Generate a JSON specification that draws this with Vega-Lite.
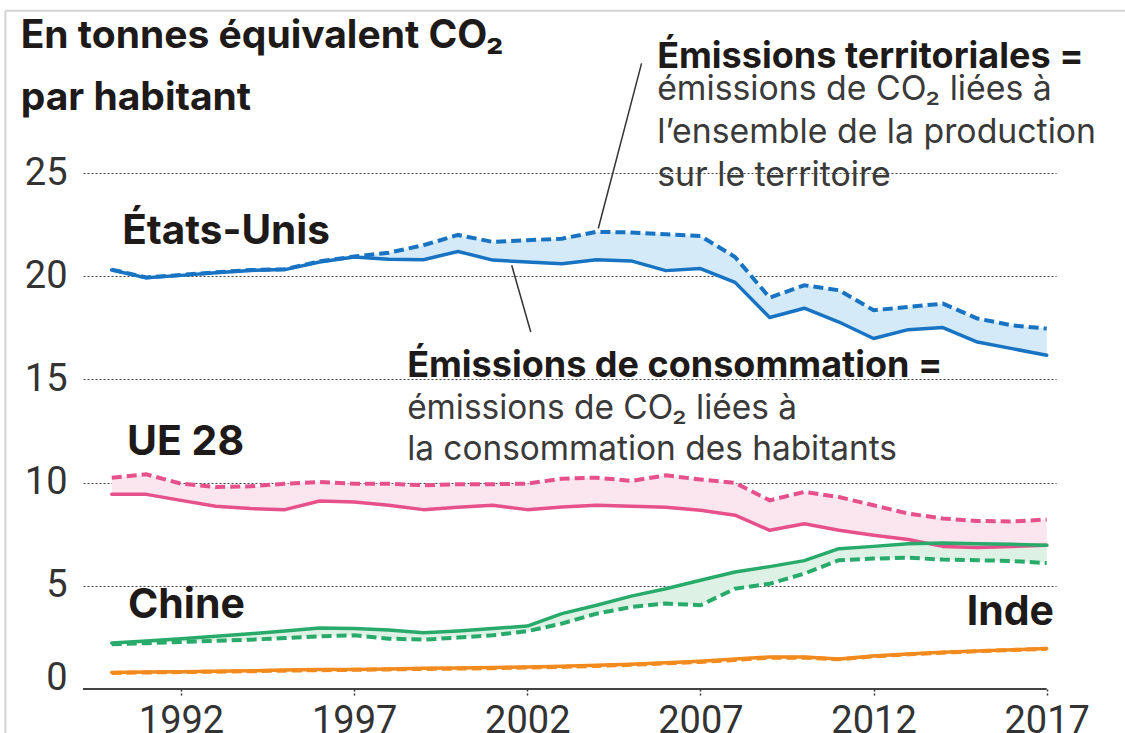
{
  "$schema": "https://vega.github.io/schema/vega-lite/v6.json",
  "autosize": {"type": "none"},
  "width": 973,
  "height": 516,
  "padding": {"left": 83, "top": 173, "right": 69, "bottom": 44},
  "background": "white",
  "config": {"view": {"stroke": null}},
  "data": {"values": [
    {"pays":"États-Unis","annee":1990,"consommation":20.30,"territoriales":20.32},
    {"pays":"États-Unis","annee":1991,"consommation":19.92,"territoriales":19.94},
    {"pays":"États-Unis","annee":1992,"consommation":20.04,"territoriales":20.06},
    {"pays":"États-Unis","annee":1993,"consommation":20.17,"territoriales":20.19},
    {"pays":"États-Unis","annee":1994,"consommation":20.28,"territoriales":20.30},
    {"pays":"États-Unis","annee":1995,"consommation":20.32,"territoriales":20.34},
    {"pays":"États-Unis","annee":1996,"consommation":20.69,"territoriales":20.72},
    {"pays":"États-Unis","annee":1997,"consommation":20.93,"territoriales":20.95},
    {"pays":"États-Unis","annee":1998,"consommation":20.82,"territoriales":21.14},
    {"pays":"États-Unis","annee":1999,"consommation":20.80,"territoriales":21.50},
    {"pays":"États-Unis","annee":2000,"consommation":21.20,"territoriales":22.00},
    {"pays":"États-Unis","annee":2001,"consommation":20.78,"territoriales":21.66},
    {"pays":"États-Unis","annee":2002,"consommation":20.69,"territoriales":21.74},
    {"pays":"États-Unis","annee":2003,"consommation":20.60,"territoriales":21.82},
    {"pays":"États-Unis","annee":2004,"consommation":20.80,"territoriales":22.15},
    {"pays":"États-Unis","annee":2005,"consommation":20.74,"territoriales":22.12},
    {"pays":"États-Unis","annee":2006,"consommation":20.27,"territoriales":22.03},
    {"pays":"États-Unis","annee":2007,"consommation":20.37,"territoriales":21.95},
    {"pays":"États-Unis","annee":2008,"consommation":19.70,"territoriales":20.93},
    {"pays":"États-Unis","annee":2009,"consommation":18.00,"territoriales":18.96},
    {"pays":"États-Unis","annee":2010,"consommation":18.45,"territoriales":19.56},
    {"pays":"États-Unis","annee":2011,"consommation":17.78,"territoriales":19.32},
    {"pays":"États-Unis","annee":2012,"consommation":16.98,"territoriales":18.35},
    {"pays":"États-Unis","annee":2013,"consommation":17.41,"territoriales":18.51},
    {"pays":"États-Unis","annee":2014,"consommation":17.51,"territoriales":18.67},
    {"pays":"États-Unis","annee":2015,"consommation":16.81,"territoriales":17.95},
    {"pays":"États-Unis","annee":2016,"consommation":16.49,"territoriales":17.62},
    {"pays":"États-Unis","annee":2017,"consommation":16.17,"territoriales":17.46},
    {"pays":"UE 28","annee":1990,"consommation":9.43,"territoriales":10.24},
    {"pays":"UE 28","annee":1991,"consommation":9.43,"territoriales":10.40},
    {"pays":"UE 28","annee":1992,"consommation":9.14,"territoriales":9.95},
    {"pays":"UE 28","annee":1993,"consommation":8.85,"territoriales":9.79},
    {"pays":"UE 28","annee":1994,"consommation":8.74,"territoriales":9.82},
    {"pays":"UE 28","annee":1995,"consommation":8.69,"territoriales":9.95},
    {"pays":"UE 28","annee":1996,"consommation":9.11,"territoriales":10.03},
    {"pays":"UE 28","annee":1997,"consommation":9.06,"territoriales":9.95},
    {"pays":"UE 28","annee":1998,"consommation":8.90,"territoriales":9.95},
    {"pays":"UE 28","annee":1999,"consommation":8.69,"territoriales":9.87},
    {"pays":"UE 28","annee":2000,"consommation":8.80,"territoriales":9.92},
    {"pays":"UE 28","annee":2001,"consommation":8.90,"territoriales":9.92},
    {"pays":"UE 28","annee":2002,"consommation":8.69,"territoriales":9.95},
    {"pays":"UE 28","annee":2003,"consommation":8.82,"territoriales":10.19},
    {"pays":"UE 28","annee":2004,"consommation":8.90,"territoriales":10.24},
    {"pays":"UE 28","annee":2005,"consommation":8.85,"territoriales":10.08},
    {"pays":"UE 28","annee":2006,"consommation":8.80,"territoriales":10.35},
    {"pays":"UE 28","annee":2007,"consommation":8.66,"territoriales":10.15},
    {"pays":"UE 28","annee":2008,"consommation":8.42,"territoriales":9.98},
    {"pays":"UE 28","annee":2009,"consommation":7.69,"territoriales":9.14},
    {"pays":"UE 28","annee":2010,"consommation":8.01,"territoriales":9.55},
    {"pays":"UE 28","annee":2011,"consommation":7.69,"territoriales":9.30},
    {"pays":"UE 28","annee":2012,"consommation":7.45,"territoriales":8.90},
    {"pays":"UE 28","annee":2013,"consommation":7.24,"territoriales":8.50},
    {"pays":"UE 28","annee":2014,"consommation":6.91,"territoriales":8.26},
    {"pays":"UE 28","annee":2015,"consommation":6.85,"territoriales":8.14},
    {"pays":"UE 28","annee":2016,"consommation":6.91,"territoriales":8.12},
    {"pays":"UE 28","annee":2017,"consommation":6.96,"territoriales":8.21},
    {"pays":"Chine","annee":1990,"consommation":2.23,"territoriales":2.17},
    {"pays":"Chine","annee":1991,"consommation":2.33,"territoriales":2.22},
    {"pays":"Chine","annee":1992,"consommation":2.44,"territoriales":2.28},
    {"pays":"Chine","annee":1993,"consommation":2.55,"territoriales":2.33},
    {"pays":"Chine","annee":1994,"consommation":2.68,"territoriales":2.39},
    {"pays":"Chine","annee":1995,"consommation":2.81,"territoriales":2.47},
    {"pays":"Chine","annee":1996,"consommation":2.96,"territoriales":2.55},
    {"pays":"Chine","annee":1997,"consommation":2.93,"territoriales":2.60},
    {"pays":"Chine","annee":1998,"consommation":2.86,"territoriales":2.44},
    {"pays":"Chine","annee":1999,"consommation":2.72,"territoriales":2.39},
    {"pays":"Chine","annee":2000,"consommation":2.81,"territoriales":2.49},
    {"pays":"Chine","annee":2001,"consommation":2.93,"territoriales":2.60},
    {"pays":"Chine","annee":2002,"consommation":3.05,"territoriales":2.80},
    {"pays":"Chine","annee":2003,"consommation":3.65,"territoriales":3.17},
    {"pays":"Chine","annee":2004,"consommation":4.06,"territoriales":3.65},
    {"pays":"Chine","annee":2005,"consommation":4.50,"territoriales":3.97},
    {"pays":"Chine","annee":2006,"consommation":4.86,"territoriales":4.14},
    {"pays":"Chine","annee":2007,"consommation":5.27,"territoriales":4.06},
    {"pays":"Chine","annee":2008,"consommation":5.67,"territoriales":4.86},
    {"pays":"Chine","annee":2009,"consommation":5.93,"territoriales":5.10},
    {"pays":"Chine","annee":2010,"consommation":6.22,"territoriales":5.59},
    {"pays":"Chine","annee":2011,"consommation":6.80,"territoriales":6.24},
    {"pays":"Chine","annee":2012,"consommation":6.91,"territoriales":6.32},
    {"pays":"Chine","annee":2013,"consommation":7.04,"territoriales":6.36},
    {"pays":"Chine","annee":2014,"consommation":7.07,"territoriales":6.27},
    {"pays":"Chine","annee":2015,"consommation":7.04,"territoriales":6.24},
    {"pays":"Chine","annee":2016,"consommation":7.01,"territoriales":6.20},
    {"pays":"Chine","annee":2017,"consommation":6.96,"territoriales":6.10},
    {"pays":"Inde","annee":1990,"consommation":0.80,"territoriales":0.78},
    {"pays":"Inde","annee":1991,"consommation":0.82,"territoriales":0.80},
    {"pays":"Inde","annee":1992,"consommation":0.84,"territoriales":0.82},
    {"pays":"Inde","annee":1993,"consommation":0.86,"territoriales":0.84},
    {"pays":"Inde","annee":1994,"consommation":0.88,"territoriales":0.86},
    {"pays":"Inde","annee":1995,"consommation":0.92,"territoriales":0.89},
    {"pays":"Inde","annee":1996,"consommation":0.94,"territoriales":0.91},
    {"pays":"Inde","annee":1997,"consommation":0.95,"territoriales":0.93},
    {"pays":"Inde","annee":1998,"consommation":0.97,"territoriales":0.95},
    {"pays":"Inde","annee":1999,"consommation":1.00,"territoriales":0.97},
    {"pays":"Inde","annee":2000,"consommation":1.02,"territoriales":0.99},
    {"pays":"Inde","annee":2001,"consommation":1.04,"territoriales":1.01},
    {"pays":"Inde","annee":2002,"consommation":1.07,"territoriales":1.04},
    {"pays":"Inde","annee":2003,"consommation":1.10,"territoriales":1.07},
    {"pays":"Inde","annee":2004,"consommation":1.15,"territoriales":1.12},
    {"pays":"Inde","annee":2005,"consommation":1.20,"territoriales":1.17},
    {"pays":"Inde","annee":2006,"consommation":1.27,"territoriales":1.24},
    {"pays":"Inde","annee":2007,"consommation":1.35,"territoriales":1.31},
    {"pays":"Inde","annee":2008,"consommation":1.45,"territoriales":1.41},
    {"pays":"Inde","annee":2009,"consommation":1.55,"territoriales":1.52},
    {"pays":"Inde","annee":2010,"consommation":1.55,"territoriales":1.52},
    {"pays":"Inde","annee":2011,"consommation":1.45,"territoriales":1.44},
    {"pays":"Inde","annee":2012,"consommation":1.60,"territoriales":1.58},
    {"pays":"Inde","annee":2013,"consommation":1.70,"territoriales":1.68},
    {"pays":"Inde","annee":2014,"consommation":1.78,"territoriales":1.76},
    {"pays":"Inde","annee":2015,"consommation":1.84,"territoriales":1.83},
    {"pays":"Inde","annee":2016,"consommation":1.90,"territoriales":1.89},
    {"pays":"Inde","annee":2017,"consommation":1.96,"territoriales":1.95}
  ]},
  "layer": [
    {
      "mark": {"type": "area", "opacity": 1},
      "encoding": {
        "x": {"field": "annee", "type": "quantitative",
          "scale": {"domain": [1989.17, 2017.268], "nice": false, "zero": false},
          "axis": {"values": [1992, 1997, 2002, 2007, 2012, 2017], "format": "d", "title": null,
            "domain": false, "grid": false, "ticks": true, "tickSize": 8, "tickColor": "#333",
            "tickDash": [2, 2], "tickWidth": 1.5, "labelFont": "Roboto", "labelFontSize": 38,
            "labelColor": "#333", "labelPadding": 5, "labelFlush": false, "labelOverlap": false}},
        "y": {"field": "territoriales", "type": "quantitative",
          "scale": {"domain": [0, 25], "nice": false, "zero": true},
          "axis": {"values": [0, 5, 10, 15, 20, 25], "title": null, "domain": false, "ticks": false,
            "grid": true, "gridDash": [2, 2], "gridColor": "#444", "gridWidth": 1,
            "gridOpacity": {"condition": {"test": "datum.value === 0", "value": 0}, "value": 1},
            "labelFont": "Roboto", "labelFontSize": 38, "labelColor": "#333", "labelPadding": 16,
            "labelBaseline": {"condition": {"test": "datum.value === 0", "value": "alphabetic"}, "value": "middle"}}},
        "y2": {"field": "consommation"},
        "fill": {"field": "pays", "type": "nominal",
          "scale": {"domain": ["États-Unis", "UE 28", "Chine", "Inde"], "range": ["#d5eaf9", "#fbe5ee", "#ddf1e4", "#fde8d2"]},
          "legend": null}
      }
    },
    {
      "data": {"values": [{}]},
      "mark": {"type": "rule", "stroke": "#444", "strokeWidth": 2},
      "encoding": {"x": {"datum": 1989.17, "type": "quantitative"}, "x2": {"datum": 2017}, "y": {"datum": 0, "type": "quantitative"}}
    },
    {
      "mark": {"type": "line", "strokeWidth": 3.5, "strokeJoin": "round", "strokeCap": "round"},
      "encoding": {
        "x": {"field": "annee", "type": "quantitative"},
        "y": {"field": "consommation", "type": "quantitative"},
        "stroke": {"field": "pays", "type": "nominal",
          "scale": {"domain": ["États-Unis", "UE 28", "Chine", "Inde"], "range": ["#1873c3", "#e6508b", "#28aa6b", "#f28a1e"]},
          "legend": null}
      }
    },
    {
      "mark": {"type": "line", "strokeWidth": 4, "strokeDash": [10, 5]},
      "encoding": {
        "x": {"field": "annee", "type": "quantitative"},
        "y": {"field": "territoriales", "type": "quantitative"},
        "stroke": {"field": "pays", "type": "nominal", "legend": null}
      }
    },
    {
      "data": {"values": [{}]},
      "mark": {"type": "rule", "stroke": "#d3d3d3", "strokeWidth": 2},
      "encoding": {"x": {"datum": 1986.93, "type": "quantitative"}, "x2": {"datum": 2021}, "y": {"datum": 32.86, "type": "quantitative"}}
    },
    {
      "data": {"values": [{}]},
      "mark": {"type": "rule", "stroke": "#d3d3d3", "strokeWidth": 2},
      "encoding": {"x": {"datum": 1986.93, "type": "quantitative"}, "y": {"datum": 32.86, "type": "quantitative"}, "y2": {"datum": -3}}
    },
    {
      "data": {"values": [{}]},
      "mark": {"type": "rule", "stroke": "#333", "strokeWidth": 1.5},
      "encoding": {"x": {"datum": 2005.30, "type": "quantitative"}, "x2": {"datum": 2004.05}, "y": {"datum": 30.31, "type": "quantitative"}, "y2": {"datum": 22.31}}
    },
    {
      "data": {"values": [{}]},
      "mark": {"type": "rule", "stroke": "#333", "strokeWidth": 1.5},
      "encoding": {"x": {"datum": 2001.55, "type": "quantitative"}, "x2": {"datum": 2002.10}, "y": {"datum": 20.53, "type": "quantitative"}, "y2": {"datum": 17.30}}
    },
    {
      "data": {"values": [{}]},
      "mark": {"type": "text", "align": "left", "baseline": "alphabetic", "font": "Inter", "fontWeight": "bold", "fontSize": 39, "lineHeight": 62, "color": "#1e1a1a"},
      "encoding": {"x": {"datum": 1987.37, "type": "quantitative"}, "y": {"datum": 31.04, "type": "quantitative"},
        "text": {"value": ["En tonnes équivalent CO₂", "par habitant"]}}
    },
    {
      "data": {"values": [{}]},
      "mark": {"type": "text", "align": "left", "baseline": "alphabetic", "font": "Inter", "fontWeight": "bold", "fontSize": 36, "color": "#1e1a1a"},
      "encoding": {"x": {"datum": 2005.75, "type": "quantitative"}, "y": {"datum": 30.07, "type": "quantitative"},
        "text": {"value": "Émissions territoriales ="}}
    },
    {
      "data": {"values": [{}]},
      "mark": {"type": "text", "align": "left", "baseline": "alphabetic", "font": "Inter", "fontSize": 33.8, "lineHeight": 43, "color": "#3a3a3a"},
      "encoding": {"x": {"datum": 2005.75, "type": "quantitative"}, "y": {"datum": 28.52, "type": "quantitative"},
        "text": {"value": ["émissions  de CO₂ liées à", "l’ensemble de la production", "sur le territoire"]}}
    },
    {
      "data": {"values": [{}]},
      "mark": {"type": "text", "align": "left", "baseline": "alphabetic", "font": "Inter", "fontWeight": "bold", "fontSize": 36, "color": "#1e1a1a"},
      "encoding": {"x": {"datum": 1998.53, "type": "quantitative"}, "y": {"datum": 15.10, "type": "quantitative"},
        "text": {"value": "Émissions de consommation ="}}
    },
    {
      "data": {"values": [{}]},
      "mark": {"type": "text", "align": "left", "baseline": "alphabetic", "font": "Inter", "fontSize": 33.4, "lineHeight": 41, "color": "#3a3a3a"},
      "encoding": {"x": {"datum": 1998.53, "type": "quantitative"}, "y": {"datum": 13.07, "type": "quantitative"},
        "text": {"value": ["émissions de CO₂ liées à", "la consommation des habitants"]}}
    },
    {
      "data": {"values": [{}]},
      "mark": {"type": "text", "align": "left", "baseline": "alphabetic", "font": "Inter", "fontWeight": "bold", "fontSize": 40.5, "color": "#1e1a1a"},
      "encoding": {"x": {"datum": 1990.30, "type": "quantitative"}, "y": {"datum": 21.55, "type": "quantitative"}, "text": {"value": "États-Unis"}}
    },
    {
      "data": {"values": [{}]},
      "mark": {"type": "text", "align": "left", "baseline": "alphabetic", "font": "Inter", "fontWeight": "bold", "fontSize": 41, "color": "#1e1a1a"},
      "encoding": {"x": {"datum": 1990.44, "type": "quantitative"}, "y": {"datum": 11.32, "type": "quantitative"}, "text": {"value": "UE 28"}}
    },
    {
      "data": {"values": [{}]},
      "mark": {"type": "text", "align": "left", "baseline": "alphabetic", "font": "Inter", "fontWeight": "bold", "fontSize": 41, "color": "#1e1a1a"},
      "encoding": {"x": {"datum": 1990.47, "type": "quantitative"}, "y": {"datum": 3.43, "type": "quantitative"}, "text": {"value": "Chine"}}
    },
    {
      "data": {"values": [{}]},
      "mark": {"type": "text", "align": "right", "baseline": "alphabetic", "font": "Inter", "fontWeight": "bold", "fontSize": 41, "color": "#1e1a1a"},
      "encoding": {"x": {"datum": 2017.21, "type": "quantitative"}, "y": {"datum": 3.09, "type": "quantitative"}, "text": {"value": "Inde"}}
    }
  ]
}
